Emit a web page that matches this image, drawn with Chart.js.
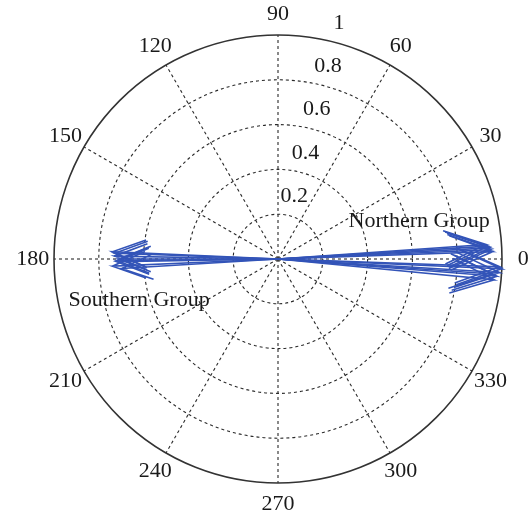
<!DOCTYPE html>
<html>
<head>
<meta charset="utf-8">
<script src="https://cdn.jsdelivr.net/npm/chart.js@4.4.1/dist/chart.umd.min.js"></script>
<style>
  html, body { margin: 0; padding: 0; background: #fff; }
  #wrap { width: 528px; height: 520px; }
</style>
</head>
<body>
<div id="wrap"><canvas id="compass" width="528" height="520"></canvas></div>
<script>
// Compass data: magnitude and direction (degrees) of each vector
const northMag = [0.95, 0.94, 0.96, 0.93, 0.95, 1.0, 0.99, 0.98, 0.97, 0.99, 0.96];
const northAng = [2.5, 3.5, 2.0, 4.0, 3.0, -2.5, -3.5, -4.5, -5.5, -2.0, -4.0];
const southMag = [0.73, 0.72, 0.74, 0.71, 0.73, 0.70, 0.72, 0.74];
const southAng = [179, 181, 182.5, 180, 178, 183.5, 180.5, 177.5];

// Axis ticks
const angleTicks = [0, 30, 60, 90, 120, 150, 180, 210, 240, 270, 300, 330];
const radialTicks = [0.2, 0.4, 0.6, 0.8, 1];

const groupLabels = ['Northern Group', 'Southern Group'];

const arrowColor = '#3354b8';
const textColor = '#1a1a1a';
const fontSpec = '22px "Liberation Serif", "Times New Roman", serif';

// MATLAB-style compass arrow: shaft plus two barbs
const arrowPoints = (mag, deg) => {
    const a = deg * Math.PI / 180;
    const c = Math.cos(a), s = Math.sin(a);
    const rot = (x, y) => ({ x: mag * (x * c - y * s), y: mag * (x * s + y * c) });
    return [rot(0, 0), rot(1, 0), rot(0.8, 0.08), rot(1, 0), rot(0.8, -0.08)];
};

const makeArrows = (mags, angs) => mags.map((m, i) => ({
    data: arrowPoints(m, angs[i]),
    showLine: true,
    borderColor: arrowColor,
    borderWidth: 1.6,
    pointRadius: 0,
    fill: false,
    tension: 0,
}));

const polarGrid = {
    id: 'polarGrid',
    beforeDatasetsDraw(chart) {
        const { ctx, scales: { x, y } } = chart;
        const cx = x.getPixelForValue(0);
        const cy = y.getPixelForValue(0);
        const unit = x.getPixelForValue(1) - cx;
        const rMax = radialTicks[radialTicks.length - 1];

        ctx.save();
        ctx.strokeStyle = '#2a2a2a';
        ctx.lineWidth = 1.1;
        ctx.setLineDash([3, 3]);
        radialTicks.slice(0, -1).forEach((r) => {
            ctx.beginPath();
            ctx.arc(cx, cy, r * unit, 0, Math.PI * 2);
            ctx.stroke();
        });
        angleTicks.forEach((deg) => {
            const a = deg * Math.PI / 180;
            ctx.beginPath();
            ctx.moveTo(cx, cy);
            ctx.lineTo(cx + rMax * unit * Math.cos(a), cy - rMax * unit * Math.sin(a));
            ctx.stroke();
        });
        ctx.setLineDash([]);
        ctx.strokeStyle = '#333';
        ctx.lineWidth = 1.6;
        ctx.beginPath();
        ctx.arc(cx, cy, rMax * unit, 0, Math.PI * 2);
        ctx.stroke();
        ctx.restore();
    },
    afterDraw(chart, args, opts) {
        const { ctx, scales: { x, y } } = chart;
        const cx = x.getPixelForValue(0);
        const cy = y.getPixelForValue(0);
        const unit = x.getPixelForValue(1) - cx;
        const rMax = radialTicks[radialTicks.length - 1];

        ctx.save();
        ctx.font = fontSpec;
        ctx.fillStyle = textColor;
        ctx.textAlign = 'center';
        ctx.textBaseline = 'middle';

        angleTicks.forEach((deg) => {
            const a = deg * Math.PI / 180;
            const d = rMax * unit * 1.095;
            ctx.fillText(String(deg), cx + d * Math.cos(a), cy - d * Math.sin(a));
        });

        const ra = opts.radialAngle * Math.PI / 180;
        radialTicks.forEach((r) => {
            const d = r * unit + 20;
            ctx.fillText(String(r), cx + d * Math.cos(ra), cy - d * Math.sin(ra));
        });

        groupLabels.forEach((txt, i) => {
            const p = opts.labelPos[i];
            ctx.fillText(txt, x.getPixelForValue(p[0]), y.getPixelForValue(p[1]));
        });
        ctx.restore();
    },
};

// Scale limits put the origin at (278, 259) with 224 px per unit
const unitPx = 224;
new Chart(document.getElementById('compass'), {
    type: 'scatter',
    data: {
        datasets: [...makeArrows(northMag, northAng), ...makeArrows(southMag, southAng)],
    },
    options: {
        responsive: false,
        animation: false,
        devicePixelRatio: 1,
        layout: { padding: 0 },
        scales: {
            x: { type: 'linear', display: false, min: -278 / unitPx, max: (528 - 278) / unitPx },
            y: { type: 'linear', display: false, min: -(520 - 259) / unitPx, max: 259 / unitPx },
        },
        plugins: {
            legend: { display: false },
            tooltip: { enabled: false },
            polarGrid: {
                radialAngle: 75.5,
                labelPos: [[0.63, 0.17], [-0.62, -0.185]],
            },
        },
        datasets: { scatter: { clip: false } },
    },
    plugins: [polarGrid],
});
</script>
</body>
</html>
